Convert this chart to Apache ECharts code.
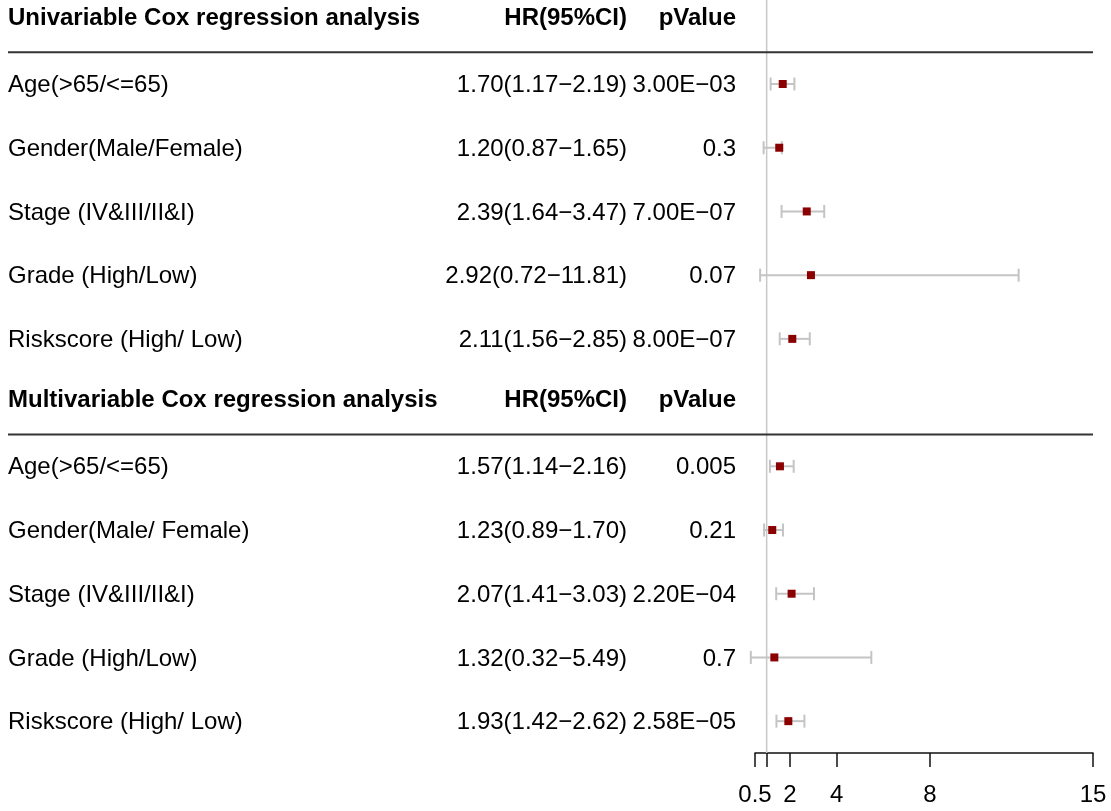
<!DOCTYPE html>
<html>
<head>
<meta charset="utf-8">
<script src="https://cdn.jsdelivr.net/npm/echarts@6/dist/echarts.min.js"></script>
<style>html,body{margin:0;padding:0;background:#fff}#c{width:1111px;height:811px}</style>
</head>
<body>
<div id="c"></div>
<script>
// ---- data ----
const uniTitle = 'Univariable Cox regression analysis';
const multiTitle = 'Multivariable Cox regression analysis';
const hrHeader = 'HR(95%CI)';
const pHeader = 'pValue';

const uniLabels = ['Age(>65/<=65)', 'Gender(Male/Female)', 'Stage (IV&III/II&I)', 'Grade (High/Low)', 'Riskscore (High/ Low)'];
const uniHRText = ['1.70(1.17\u22122.19)', '1.20(0.87\u22121.65)', '2.39(1.64\u22123.47)', '2.92(0.72\u221211.81)', '2.11(1.56\u22122.85)'];
const uniPText = ['3.00E\u221203', '0.3', '7.00E\u221207', '0.07', '8.00E\u221207'];
const uniPoint = [1.69, 1.54, 2.72, 2.90, 2.10];
const uniLow = [1.17, 0.87, 1.64, 0.72, 1.56];
const uniHigh = [2.19, 1.65, 3.47, 11.81, 2.85];

const multiLabels = ['Age(>65/<=65)', 'Gender(Male/ Female)', 'Stage (IV&III/II&I)', 'Grade (High/Low)', 'Riskscore (High/ Low)'];
const multiHRText = ['1.57(1.14\u22122.16)', '1.23(0.89\u22121.70)', '2.07(1.41\u22123.03)', '1.32(0.32\u22125.49)', '1.93(1.42\u22122.62)'];
const multiPText = ['0.005', '0.21', '2.20E\u221204', '0.7', '2.58E\u221205'];
const multiPoint = [1.57, 1.24, 2.07, 1.33, 1.93];
const multiLow = [1.14, 0.89, 1.41, 0.32, 1.42];
const multiHigh = [2.16, 1.70, 3.03, 5.49, 2.62];

const xTicks = [0.5, 1, 2, 4, 8, 15];
const xTickLabels = [0.5, 2, 4, 8, 15];
const refValue = 1;

// ---- build rows (row index = vertical position) ----
const textRows = [];
const ciRows = [];
textRows.push({ row: 0, a: uniTitle, b: hrHeader, c: pHeader, bold: true });
uniLabels.forEach((l, i) => {
  textRows.push({ row: 1 + i, a: l, b: uniHRText[i], c: uniPText[i], bold: false });
  ciRows.push([1 + i, uniLow[i], uniHigh[i], uniPoint[i]]);
});
textRows.push({ row: 6, a: multiTitle, b: hrHeader, c: pHeader, bold: true });
multiLabels.forEach((l, i) => {
  textRows.push({ row: 7 + i, a: l, b: multiHRText[i], c: multiPText[i], bold: false });
  ciRows.push([7 + i, multiLow[i], multiHigh[i], multiPoint[i]]);
});
const sepRows = [0.5, 6.5];
const lastRow = 11.5;

const FONT = '"Liberation Sans", Arial, sans-serif';
const COL_LABEL_X = 8, COL_HR_RIGHT = 627, COL_P_RIGHT = 736;

const chart = echarts.init(document.getElementById('c'), null, { renderer: 'canvas' });
chart.setOption({
  backgroundColor: '#fff',
  animation: false,
  grid: { left: 755, right: 18, top: 20.3, bottom: 58, containLabel: false },
  xAxis: {
    type: 'value', min: 0.5, max: 15, position: 'bottom',
    splitLine: { show: false },
    axisLine: { show: true, onZero: false, lineStyle: { color: '#111', width: 1.5 } },
    axisTick: { show: true, length: 14, customValues: xTicks, lineStyle: { color: '#111', width: 1.5 } },
    axisLabel: { customValues: xTickLabels, fontSize: 24, color: '#000', fontFamily: FONT, margin: 30 }
  },
  yAxis: { type: 'value', min: 0, max: lastRow, inverse: true, show: false },
  series: [
    {
      type: 'custom', name: 'ref', clip: false, silent: true,
      data: [[refValue, 0]],
      renderItem: function (params, api) {
        const x = api.coord([api.value(0), 0])[0];
        const yTop = 0;
        const yBot = api.coord([api.value(0), lastRow])[1];
        return { type: 'line', shape: { x1: x, y1: yTop, x2: x, y2: yBot }, style: { stroke: '#c8c8c8', lineWidth: 1.5 } };
      }
    },
    {
      type: 'custom', name: 'sep', clip: false, silent: true,
      data: sepRows.map(r => [15, r]),
      renderItem: function (params, api) {
        const p = api.coord([api.value(0), api.value(1)]);
        return { type: 'line', shape: { x1: COL_LABEL_X, y1: p[1], x2: p[0], y2: p[1] }, style: { stroke: '#333', lineWidth: 2 } };
      }
    },
    {
      type: 'custom', name: 'ci', clip: false, silent: true,
      data: ciRows,
      renderItem: function (params, api) {
        const row = api.value(0);
        const pl = api.coord([api.value(1), row]);
        const ph = api.coord([api.value(2), row]);
        const pp = api.coord([api.value(3), row]);
        const cap = 6.5, box = 8;
        const gray = { stroke: '#c4c4c4', lineWidth: 2 };
        return {
          type: 'group',
          children: [
            { type: 'line', shape: { x1: pl[0], y1: pl[1], x2: ph[0], y2: ph[1] }, style: gray },
            { type: 'line', shape: { x1: pl[0], y1: pl[1] - cap, x2: pl[0], y2: pl[1] + cap }, style: gray },
            { type: 'line', shape: { x1: ph[0], y1: ph[1] - cap, x2: ph[0], y2: ph[1] + cap }, style: gray },
            { type: 'rect', shape: { x: pp[0] - box / 2, y: pp[1] - box / 2, width: box, height: box }, style: { fill: '#8b0000' } }
          ]
        };
      }
    },
    {
      type: 'custom', name: 'text', clip: false, silent: true,
      data: textRows.map(r => [1, r.row]),
      renderItem: function (params, api) {
        const r = textRows[params.dataIndex];
        let y = api.coord([1, api.value(1)])[1];
        y += r.bold ? -2 : 1.5;
        const mk = (x, txt, align) => ({
          type: 'text', x: x, y: y,
          style: {
            text: txt, fill: '#000', fontSize: 24, fontWeight: r.bold ? 'bold' : 'normal',
            fontFamily: FONT, textAlign: align, textVerticalAlign: 'middle'
          }
        });
        return { type: 'group', children: [mk(COL_LABEL_X, r.a, 'left'), mk(COL_HR_RIGHT, r.b, 'right'), mk(COL_P_RIGHT, r.c, 'right')] };
      }
    }
  ]
});
</script>
</body>
</html>
